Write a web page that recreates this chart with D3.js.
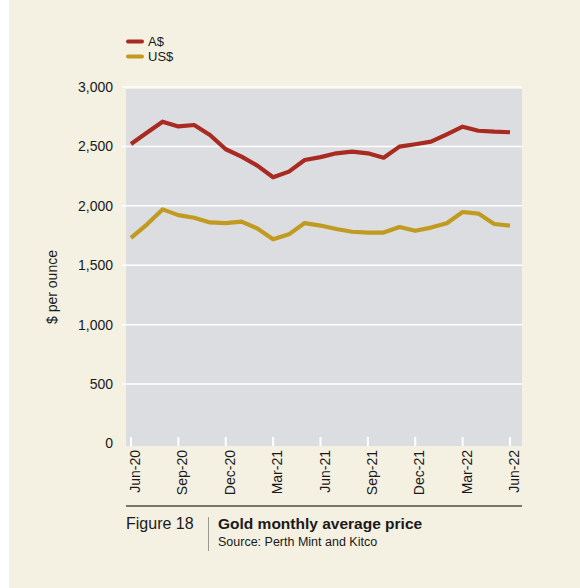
<!DOCTYPE html>
<html><head><meta charset="utf-8">
<script src="https://cdn.jsdelivr.net/npm/d3@7"></script>
<style>
html,body{margin:0;padding:0;background:#fff;}
svg{display:block;}
text{font-family:"Liberation Sans",Arial,sans-serif;fill:#1a1a1a;}
</style></head>
<body><svg id="c" width="580" height="588"></svg>
<script>
const months = ["Jun-20","Jul-20","Aug-20","Sep-20","Oct-20","Nov-20","Dec-20","Jan-21","Feb-21","Mar-21","Apr-21","May-21","Jun-21","Jul-21","Aug-21","Sep-21","Oct-21","Nov-21","Dec-21","Jan-22","Feb-22","Mar-22","Apr-22","May-22","Jun-22"];
const audValues = [2520,2615,2708,2668,2680,2596,2476,2414,2338,2240,2288,2386,2410,2442,2456,2442,2405,2498,2518,2540,2602,2666,2632,2624,2619];
const usdValues = [1730,1842,1970,1922,1900,1860,1855,1867,1810,1718,1760,1855,1834,1805,1782,1775,1775,1822,1790,1817,1854,1948,1935,1847,1834];
const xTickLabels = ["Jun-20","Sep-20","Dec-20","Mar-21","Jun-21","Sep-21","Dec-21","Mar-22","Jun-22"];
const yTicks = [0,500,1000,1500,2000,2500,3000];
const seriesNames = ["A$","US$"];
const seriesColors = ["#a82a20","#c09b1f"];

const svg = d3.select("#c");
svg.append("rect").attr("x",9).attr("y",0).attr("width",571).attr("height",588).attr("fill","#f4f0e2");

const plot = {l:126, r:522, t:89, b:446};
const x = d3.scalePoint().domain(months).range([131, 510]);
const y = d3.scaleLinear().domain([0,3000]).range([443.5, 87]);

svg.append("rect").attr("x",plot.l).attr("y",plot.t).attr("width",plot.r-plot.l).attr("height",plot.b-plot.t).attr("fill","#dcdde0");

// gridlines
svg.append("g").selectAll("line").data(yTicks.filter(d=>d>0)).join("line")
  .attr("x1",122).attr("x2",plot.r).attr("y1",d=>y(d)).attr("y2",d=>y(d))
  .attr("stroke","#ffffff").attr("stroke-width",1.5);

// y labels
svg.append("g").selectAll("text").data(yTicks).join("text")
  .attr("x",113).attr("y",d=>y(d)).attr("dy","0.35em").attr("text-anchor","end")
  .attr("font-size",14).text(d=>d3.format(",")(d));

// y title
svg.append("text").attr("transform","translate(57,287) rotate(-90)")
  .attr("text-anchor","middle").attr("font-size",14).text("$ per ounce");

// x ticks
svg.append("g").selectAll("line").data(xTickLabels).join("line")
  .attr("x1",d=>x(d)).attr("x2",d=>x(d)).attr("y1",437).attr("y2",plot.b)
  .attr("stroke","#ffffff").attr("stroke-width",2);

svg.append("g").selectAll("text").data(xTickLabels).join("text")
  .attr("transform",d=>`translate(${x(d)},450) rotate(-90)`)
  .attr("x",0).attr("y",9).attr("text-anchor","end").attr("font-size",14).text(d=>d);

// lines
const line = d3.line().x((d,i)=>x(months[i])).y(d=>y(d));
[audValues, usdValues].forEach((vals,k)=>{
  svg.append("path").datum(vals).attr("d",line).attr("fill","none")
    .attr("stroke",seriesColors[k]).attr("stroke-width",4.2).attr("stroke-linejoin","round");
});

// legend
const lg = svg.append("g");
seriesNames.forEach((n,k)=>{
  const yy = 41.5 + k*15;
  lg.append("line").attr("x1",128).attr("x2",142).attr("y1",yy).attr("y2",yy)
    .attr("stroke",seriesColors[k]).attr("stroke-width",4).attr("stroke-linecap","round");
  lg.append("text").attr("x",148).attr("y",yy).attr("dy","0.36em").attr("font-size",13).text(n);
});

// caption
svg.append("line").attr("x1",plot.l).attr("x2",plot.r).attr("y1",506).attr("y2",506)
  .attr("stroke","#77776f").attr("stroke-width",2);
svg.append("line").attr("x1",208.5).attr("x2",208.5).attr("y1",517).attr("y2",551)
  .attr("stroke","#9a9a92").attr("stroke-width",1);
svg.append("text").attr("x",126).attr("y",529).attr("font-size",16).text("Figure 18");
svg.append("text").attr("x",218).attr("y",529).attr("font-size",15.5).attr("font-weight","bold").text("Gold monthly average price");
svg.append("text").attr("x",218).attr("y",546).attr("font-size",12.5).text("Source: Perth Mint and Kitco");
</script></body></html>
